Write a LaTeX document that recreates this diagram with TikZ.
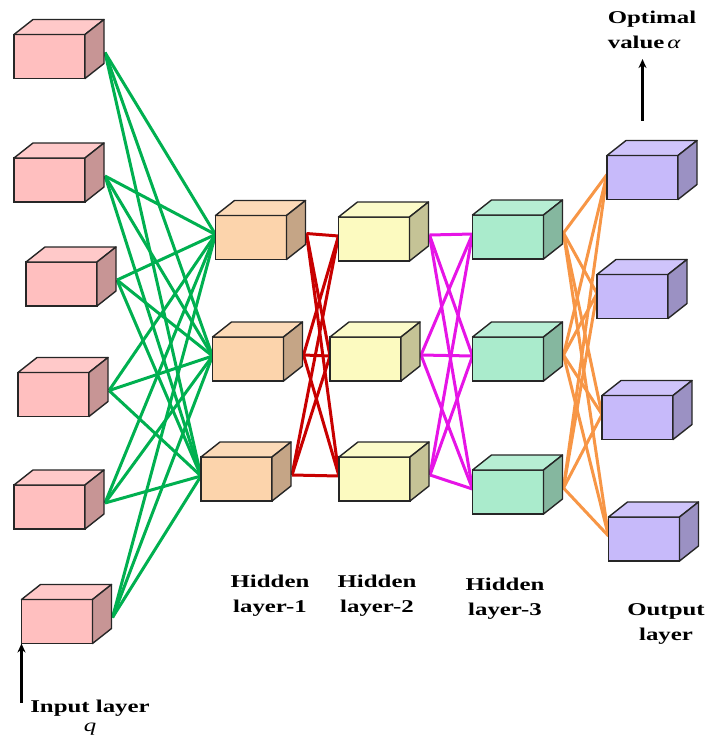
\documentclass[tikz,border=0pt]{standalone}
\usepackage{fontspec}
\newfontfamily\labfont{Liberation Serif}[FakeStretch=1.38]
\usetikzlibrary{arrows.meta,calc,backgrounds}
\definecolor{inpink}{RGB}{255,191,191}
\definecolor{hidpeach}{RGB}{252,212,172}
\definecolor{hidyellow}{RGB}{252,250,192}
\definecolor{hidmint}{RGB}{170,235,204}
\definecolor{outlav}{RGB}{199,186,250}
\definecolor{lgreen}{RGB}{0,176,80}
\definecolor{lred}{RGB}{200,0,0}
\definecolor{lmag}{RGB}{230,20,230}
\definecolor{lorange}{RGB}{247,150,70}
\tikzset{
  cube/.style={draw=black!85,line width=1.4pt,minimum width=71pt,minimum height=44pt,inner sep=0pt,outer sep=0pt},
  face/.style={draw=black!85,line width=1.4pt,line join=round},
  link/.style={line width=3pt},
  lab/.style={font=\labfont\bfseries\fontsize{18}{25}\selectfont,align=center,inner sep=0pt},
  arr/.style={-{Stealth[length=9pt,width=8pt]},line width=2.4pt},
}
% front face is the node, top and side are drawn from its anchors
\newcommand\cuboid[3]{%
  \node[cube,fill=#3] (#1) at (#2) {};
  \draw[face,fill=#3!85!white] (#1.north west) -- ++(19,-15) -- ++(71,0) -- (#1.north east) -- cycle;
  \draw[face,fill=#3!78!black] (#1.north east) -- ++(19,-15) -- ++(0,44) -- (#1.south east) -- cycle;
  \coordinate (#1-out) at ($(#1.east)+(20,-4)$);
  \coordinate (#1-in) at ($(#1.west)+(0,-3)$);
}
\newcommand\varit[1]{{\mdseries\itshape #1}}

\begin{document}
\begin{tikzpicture}[x=1pt,y=-1pt]
  \useasboundingbox (0,0) rectangle (706,740);
  % input layer
  \cuboid{i1}{49.5,56.5}{inpink}
  \cuboid{i2}{49.5,180}{inpink}
  \cuboid{i3}{61.5,284}{inpink}
  \cuboid{i4}{53.5,394.5}{inpink}
  \cuboid{i5}{49.5,507}{inpink}
  \cuboid{i6}{57,621.5}{inpink}
  % hidden layers
  \cuboid{h1a}{251,237.5}{hidpeach}
  \cuboid{h1b}{248,359}{hidpeach}
  \cuboid{h1c}{236.5,479}{hidpeach}
  \cuboid{h2a}{374,239}{hidyellow}
  \cuboid{h2b}{365.5,359}{hidyellow}
  \cuboid{h2c}{374.5,479}{hidyellow}
  \cuboid{h3a}{508,237}{hidmint}
  \cuboid{h3b}{508,359}{hidmint}
  \cuboid{h3c}{508,492}{hidmint}
  % output layer
  \cuboid{o1}{642.5,177.5}{outlav}
  \cuboid{o2}{632.5,296.5}{outlav}
  \cuboid{o3}{637.5,417.5}{outlav}
  \cuboid{o4}{644,539}{outlav}

  \begin{scope}[on background layer]
    \foreach \a in {1,...,6}
      \foreach \b in {a,b,c}
        \draw[link,lgreen] (i\a-out) -- (h1\b-in);
    \foreach \a in {a,b,c}
      \foreach \b in {a,b,c} {
        \draw[link,lred] (h1\a-out) -- (h2\b-in);
        \draw[link,lmag] (h2\a-out) -- (h3\b-in);
      }
    \foreach \a in {a,b,c}
      \foreach \b in {1,...,4}
        \draw[link,lorange] (h3\a-out) -- (o\b-in);
  \end{scope}

  \node[lab] (linp) at (90,718) {Input layer\\[-6pt]\varit{q}};
  \node[lab] (lh1) at (270,595.5) {Hidden\\layer-1};
  \node[lab] (lh2) at (377,595.5) {Hidden\\layer-2};
  \node[lab] (lh3) at (505,599) {Hidden\\layer-3};
  \node[lab] (lout) at (666,624) {Output\\layer};
  \node[lab,align=left] (optval) at (652,30) {Optimal\\value\,\varit{α}};

  \draw[arr] ([yshift=-59pt]i6.south west) -- (i6.south west);
  \draw[arr,shorten >=10pt] ([yshift=35pt]o1.north) -- (optval.south -| o1.north);
\end{tikzpicture}
\end{document}
